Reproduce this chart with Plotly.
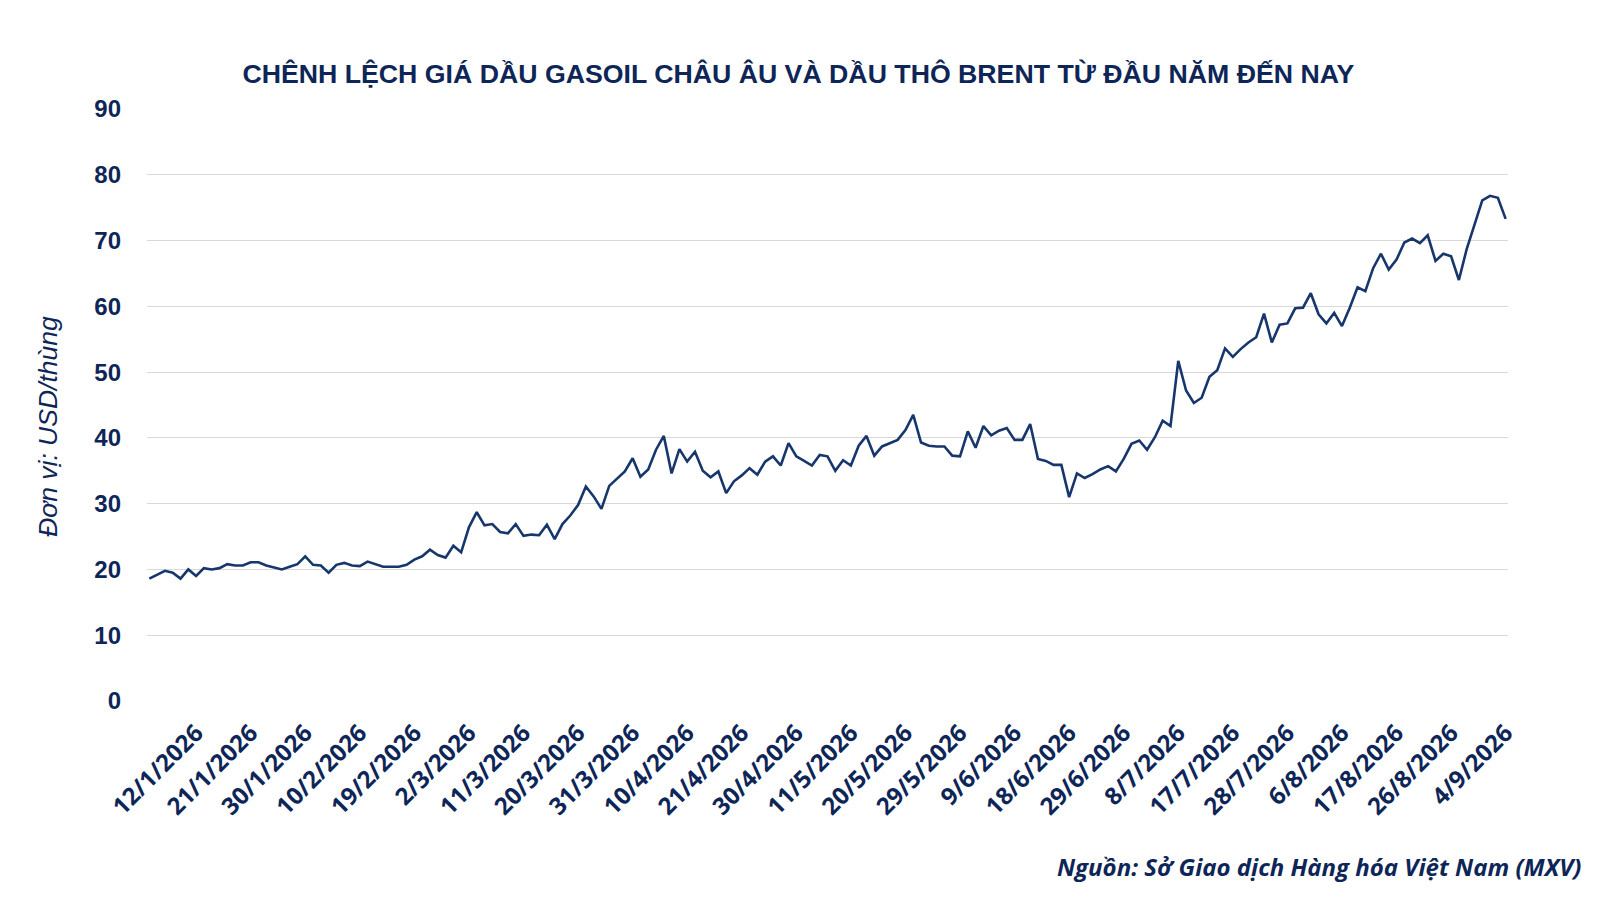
import pandas as pd
import plotly.graph_objects as go

# Chênh lệch giá gasoil châu Âu - Brent (USD/thùng), theo tháng
jan = [18.6, 19.2, 19.8, 19.5, 18.6, 20.0, 19.0, 20.2, 20.0, 20.2, 20.8,
       20.6, 20.6, 21.1, 21.1, 20.6, 20.3, 20.0, 20.4, 20.8, 22.0]
feb = [20.7, 20.6, 19.5, 20.7, 21.0, 20.6, 20.5, 21.2, 20.8, 20.4, 20.4,
       20.4, 20.7, 21.5, 22.0, 23.0, 22.2, 21.8, 23.6, 22.6]
mar = [26.4, 28.7, 26.7, 26.9, 25.7, 25.5, 26.9, 25.1, 25.3, 25.2, 26.8,
       24.6, 26.9, 28.2, 29.8, 32.6, 31.1, 29.2, 32.7, 33.8, 34.9, 36.9]
apr = [34.1, 35.2, 38.2, 40.3, 34.6, 38.3, 36.4, 37.9, 35.0, 34.0, 34.9,
       31.6, 33.4, 34.3, 35.4, 34.4, 36.4, 37.2, 35.8, 39.2, 37.2]
may = [36.5, 35.8, 37.4, 37.2, 35.0, 36.6, 35.8, 38.8, 40.3, 37.3, 38.7,
       39.2, 39.7, 41.2, 43.5, 39.3, 38.8, 38.7, 38.7, 37.3, 37.2]
jun = [41.0, 38.5, 41.8, 40.4, 41.1, 41.5, 39.7, 39.7, 42.1, 36.8, 36.5,
       35.9, 35.9, 31.0, 34.6, 33.9, 34.5, 35.2, 35.7, 34.9, 36.8, 39.1]
jul = [39.6, 38.2, 40.1, 42.6, 41.8, 51.7, 47.2, 45.3, 46.1, 49.3, 50.3,
       53.6, 52.3, 53.5, 54.5, 55.3, 58.9, 54.5, 57.2, 57.4, 59.7, 59.8, 62.0]
aug = [58.8, 57.4, 59.0, 57.0, 59.8, 62.9, 62.3, 65.8, 68.0, 65.6, 67.1,
       69.7, 70.3, 69.6, 70.8, 66.9, 68.0, 67.6, 64.0, 68.7, 72.5]
sep = [76.1, 76.8, 76.5, 73.3]

spread = jan + feb + mar + apr + may + jun + jul + aug + sep

# ngày giao dịch (bỏ ngày nghỉ lễ)
holidays = ["2026-04-03"]
days = pd.bdate_range("2026-01-02", "2026-09-04")
days = days[~days.isin(pd.to_datetime(holidays))]
dates = [f"{d.day}/{d.month}/{d.year}" for d in days]

tick_labels = ["12/1/2026", "21/1/2026", "30/1/2026", "10/2/2026", "19/2/2026",
               "2/3/2026", "11/3/2026", "20/3/2026", "31/3/2026", "10/4/2026",
               "21/4/2026", "30/4/2026", "11/5/2026", "20/5/2026", "29/5/2026",
               "9/6/2026", "18/6/2026", "29/6/2026", "8/7/2026", "17/7/2026",
               "28/7/2026", "6/8/2026", "17/8/2026", "26/8/2026", "4/9/2026"]

navy = "#0e2657"
line_color = "#17366c"

# vùng vẽ (px)
L, R, T, B = 139, 100, 101, 207
PW, PH = 1600 - L - R, 900 - T - B

fig = go.Figure()
fig.add_trace(go.Scatter(
    x=dates,
    y=spread,
    mode="lines",
    line=dict(color=line_color, width=2.6),
    hovertemplate="%{x}: %{y:.1f}<extra></extra>",
))

fig.update_layout(
    width=1600,
    height=900,
    plot_bgcolor="white",
    paper_bgcolor="white",
    showlegend=False,
    margin=dict(l=L, r=R, t=T, b=B),
    title=dict(
        text="<b>CHÊNH LỆCH GIÁ DẦU GASOIL CHÂU ÂU VÀ DẦU THÔ BRENT TỪ ĐẦU NĂM ĐẾN NAY</b>",
        x=0.494,
        xanchor="center",
        y=1 - 66 / 900,
        yanchor="middle",
        font=dict(family="Liberation Sans, Arial, sans-serif", size=26.7, color=navy),
    ),
)

fig.update_xaxes(
    type="category",
    range=[-0.3, len(dates) - 0.7],
    tickmode="array",
    tickvals=tick_labels,
    ticktext=[f"<b>{t}</b>" for t in tick_labels],
    tickangle=-45,
    tickfont=dict(family="Open Sans, sans-serif", size=24, color=navy),
    ticklabelstandoff=12,
    showgrid=False,
    showline=False,
    zeroline=False,
    ticks="",
)

fig.update_yaxes(
    range=[0, 90],
    dtick=10,
    tickvals=list(range(0, 91, 10)),
    ticktext=[f"<b>{v}</b>" for v in range(0, 91, 10)],
    tickfont=dict(family="Liberation Sans, Arial, sans-serif", size=24, color=navy),
    ticklabelstandoff=25,
    showgrid=True,
    gridcolor="#d9d9d9",
    gridwidth=1,
    zeroline=False,
    showline=False,
    ticks="",
)

# tiêu đề trục tung
fig.add_annotation(
    text="<i>Đơn vị: USD/thùng</i>",
    xref="paper", yref="paper",
    x=(40 - L) / PW, y=(900 - B - 418) / PH,
    textangle=-90,
    showarrow=False,
    xanchor="center", yanchor="middle",
    font=dict(family="Liberation Sans, Arial, sans-serif", size=26.5, color=navy),
)

# nguồn
fig.add_annotation(
    text="<b><i>Nguồn: Sở Giao dịch Hàng hóa Việt Nam (MXV)</i></b>",
    xref="paper", yref="paper",
    x=(1575 - L) / PW, y=-(858 - (900 - B)) / PH,
    showarrow=False,
    xanchor="right", yanchor="middle",
    font=dict(family="Open Sans, sans-serif", size=24, color=navy),
)

fig.write_html("out.html")
